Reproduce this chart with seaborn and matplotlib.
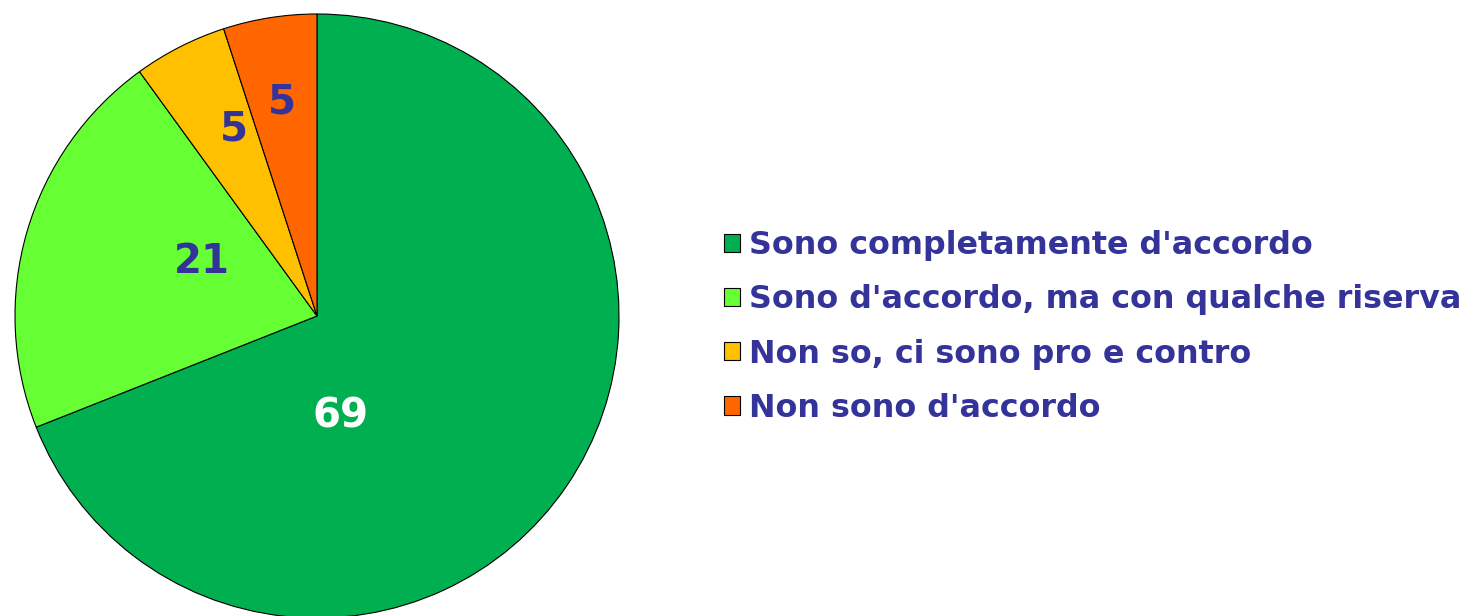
import matplotlib
matplotlib.use("Agg")
import matplotlib.pyplot as plt
import seaborn as sns
import numpy as np

categories = ["Sono completamente d'accordo",
              "Sono d'accordo, ma con qualche riserva",
              "Non so, ci sono pro e contro",
              "Non sono d'accordo"]
values = [69, 21, 5, 5]
colors = ["#00B050", "#66FF33", "#FFC000", "#FF6600"]
label_colors = ["white", "#333399", "#333399", "#333399"]

sns.set_theme(style="white")
plt.rcParams['font.family'] = ['DejaVu Sans']

W, H = 1467, 616
fig = plt.figure(figsize=(W / 100, H / 100), dpi=100)
ax = fig.add_axes([0, 0, 1, 1])

cx, cy, R = 317, H - 316, 302
wedges, _ = ax.pie(values, colors=colors, startangle=90, counterclock=False,
                   center=(cx, cy), radius=R, frame=True,
                   wedgeprops=dict(edgecolor="black", linewidth=0.8))
ax.set_xlim(0, W)
ax.set_ylim(0, H)
ax.set_aspect('equal')
ax.axis('off')

# label placement (radius fraction, angle in degrees)
label_pos = [(0.34, -77), (0.42, 155), (0.675, 114), (0.715, 99.3)]
for v, (rf, ang), lc in zip(values, label_pos, label_colors):
    a = np.deg2rad(ang)
    ax.text(cx + rf * R * np.cos(a), cy + rf * R * np.sin(a), str(v),
            ha='center', va='center', fontsize=29, fontweight='bold', color=lc)

leg = ax.legend(wedges, categories, loc='center left',
                bbox_to_anchor=(724 / W, 1 - 327 / H), frameon=False,
                fontsize=22.9, handlelength=0.5, handleheight=0.5,
                handletextpad=0.3, labelspacing=0.73, borderpad=0,
                borderaxespad=0)
for t in leg.get_texts():
    t.set_color("#333399")
    t.set_fontweight('bold')
for h in leg.legend_handles:
    h.set_linewidth(0.8)
    h.set_edgecolor('black')

fig.savefig("out.png", dpi=100)
